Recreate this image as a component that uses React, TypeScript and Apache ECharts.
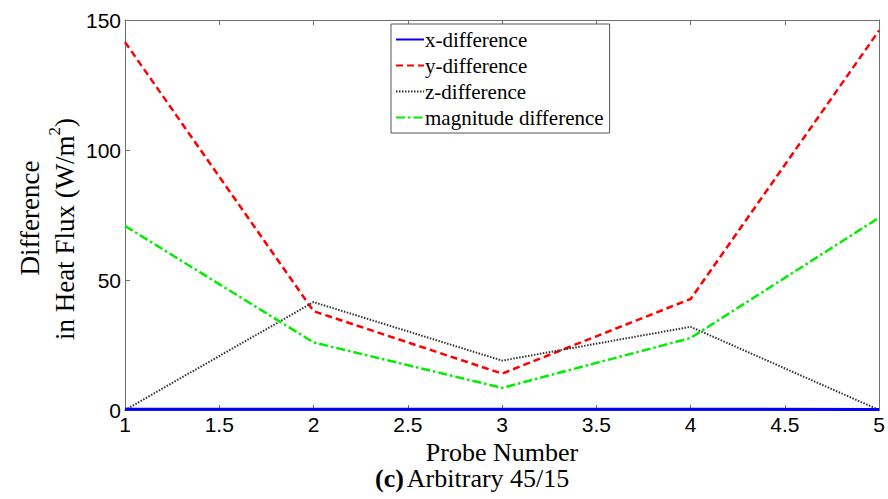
import React, { useEffect, useRef } from "react";
import * as echarts from "echarts";

const probes = [1, 2, 3, 4, 5];
const xDiff = [0.3, 0.3, 0.3, 0.3, 0.2];
const yDiff = [141.5, 38, 14, 42.7, 146];
const zDiff = [0, 41.5, 19, 32, 0];
const magDiff = [70.8, 26, 8.5, 27.7, 74];
const yTicks = [0, 50, 100, 150];
const xTicks = [1, 1.5, 2, 2.5, 3, 3.5, 4, 4.5, 5];
const seriesNames = ["x-difference", "y-difference", "z-difference", "magnitude difference"];

const pair = (ys: number[]) => probes.map((p, i) => [p, ys[i]]);

export default function App() {
  const ref = useRef<HTMLDivElement>(null);
  useEffect(() => {
    if (!ref.current) return;
    const chart = echarts.init(ref.current, undefined, { renderer: "svg" });
    const axisColor = "#6e6e6e";
    const serif = "Liberation Serif, Times New Roman, serif";
    const tickFont = { fontFamily: "Liberation Sans, Arial", fontSize: 21, color: "#000" };
    chart.setOption({
      animation: false,
      backgroundColor: "#fff",
      grid: { left: 125, top: 20, right: 8, bottom: 89, containLabel: false },
      xAxis: [
        {
          type: "value",
          min: xTicks[0],
          max: xTicks[xTicks.length - 1],
          interval: 0.5,
          position: "bottom",
          axisLine: { show: true, onZero: false, lineStyle: { color: axisColor, width: 1 } },
          axisTick: { show: true, inside: true, length: 5, lineStyle: { color: axisColor } },
          axisLabel: { ...tickFont, margin: 4 },
          splitLine: { show: false },
        },
        {
          type: "value",
          min: xTicks[0],
          max: xTicks[xTicks.length - 1],
          interval: 0.5,
          position: "top",
          axisLine: { show: true, onZero: false, lineStyle: { color: axisColor, width: 1 } },
          axisTick: { show: true, inside: true, length: 5, lineStyle: { color: axisColor } },
          axisLabel: { show: false },
          splitLine: { show: false },
        },
      ],
      yAxis: [
        {
          type: "value",
          min: yTicks[0],
          max: yTicks[yTicks.length - 1],
          interval: 50,
          position: "left",
          axisLine: { show: true, onZero: false, lineStyle: { color: axisColor, width: 1 } },
          axisTick: { show: true, inside: true, length: 5, lineStyle: { color: axisColor } },
          axisLabel: { ...tickFont, margin: 4 },
          splitLine: { show: false },
        },
        {
          type: "value",
          min: yTicks[0],
          max: yTicks[yTicks.length - 1],
          interval: 50,
          position: "right",
          axisLine: { show: true, onZero: false, lineStyle: { color: axisColor, width: 1 } },
          axisTick: { show: false },
          axisLabel: { show: false },
          splitLine: { show: false },
        },
      ],
      legend: {
        orient: "vertical",
        left: 391,
        top: 24,
        padding: [5, 6, 5, 4],
        itemGap: 5,
        itemWidth: 28,
        itemHeight: 21,
        borderColor: "#555",
        borderWidth: 1,
        backgroundColor: "#fff",
        itemStyle: { opacity: 0 },
        textStyle: { fontFamily: serif, fontSize: 21, color: "#000", padding: [0, 0, 0, -4] },
        data: seriesNames,
      },
      series: [
        {
          name: seriesNames[0],
          type: "line",
          data: pair(xDiff),
          symbol: "none",
          lineStyle: { color: "#0000ff", width: 3, type: "solid" },
          itemStyle: { color: "#0000ff" },
          z: 5,
        },
        {
          name: seriesNames[1],
          type: "line",
          data: pair(yDiff),
          symbol: "none",
          lineStyle: { color: "#ff0000", width: 2.5, type: [7, 4] },
          itemStyle: { color: "#ff0000" },
        },
        {
          name: seriesNames[2],
          type: "line",
          data: pair(zDiff),
          symbol: "none",
          lineStyle: { color: "#333333", width: 2, type: [1.5, 1.5] },
          itemStyle: { color: "#333333" },
        },
        {
          name: seriesNames[3],
          type: "line",
          data: pair(magDiff),
          symbol: "none",
          lineStyle: { color: "#00ee00", width: 2.5, type: [9, 3, 2.5, 3] },
          itemStyle: { color: "#00ee00" },
        },
      ],
      graphic: [
        {
          type: "text",
          x: 30,
          y: 218,
          rotation: Math.PI / 2,
          style: {
            text: "Difference",
            fontFamily: serif,
            fontSize: 27,
            fill: "#000",
            align: "center",
            verticalAlign: "middle",
          },
        },
        {
          type: "text",
          x: 62,
          y: 229,
          rotation: Math.PI / 2,
          style: {
            text: "{n|in Heat Flux (W/m}{s|2}{n|)}",
            rich: {
              n: { fontFamily: serif, fontSize: 27, fill: "#000", verticalAlign: "bottom", lineHeight: 32 },
              s: { fontFamily: serif, fontSize: 17, fill: "#000", verticalAlign: "top", lineHeight: 32 },
            },
            fontFamily: serif,
            fontSize: 27,
            align: "center",
            verticalAlign: "middle",
          },
        },
        {
          type: "text",
          x: 502,
          y: 452,
          style: {
            text: "Probe Number",
            fontFamily: serif,
            fontSize: 26,
            fill: "#000",
            align: "center",
            verticalAlign: "middle",
          },
        },
        {
          type: "text",
          x: 375,
          y: 478,
          style: {
            text: "{b|(c)}{g| }{n|Arbitrary 45/15}",
            rich: {
              b: { fontFamily: serif, fontSize: 26, fontWeight: "bold", fill: "#000" },
              g: { fontFamily: serif, fontSize: 12, fill: "#000" },
              n: { fontFamily: serif, fontSize: 26, fill: "#000" },
            },
            fontFamily: serif,
            fontSize: 10,
            align: "left",
            verticalAlign: "middle",
          },
        },
      ],
    });
    return () => chart.dispose();
  }, []);
  return <div ref={ref} style={{ position: "fixed", left: 0, top: 0, width: 888, height: 499 }} />;
}
